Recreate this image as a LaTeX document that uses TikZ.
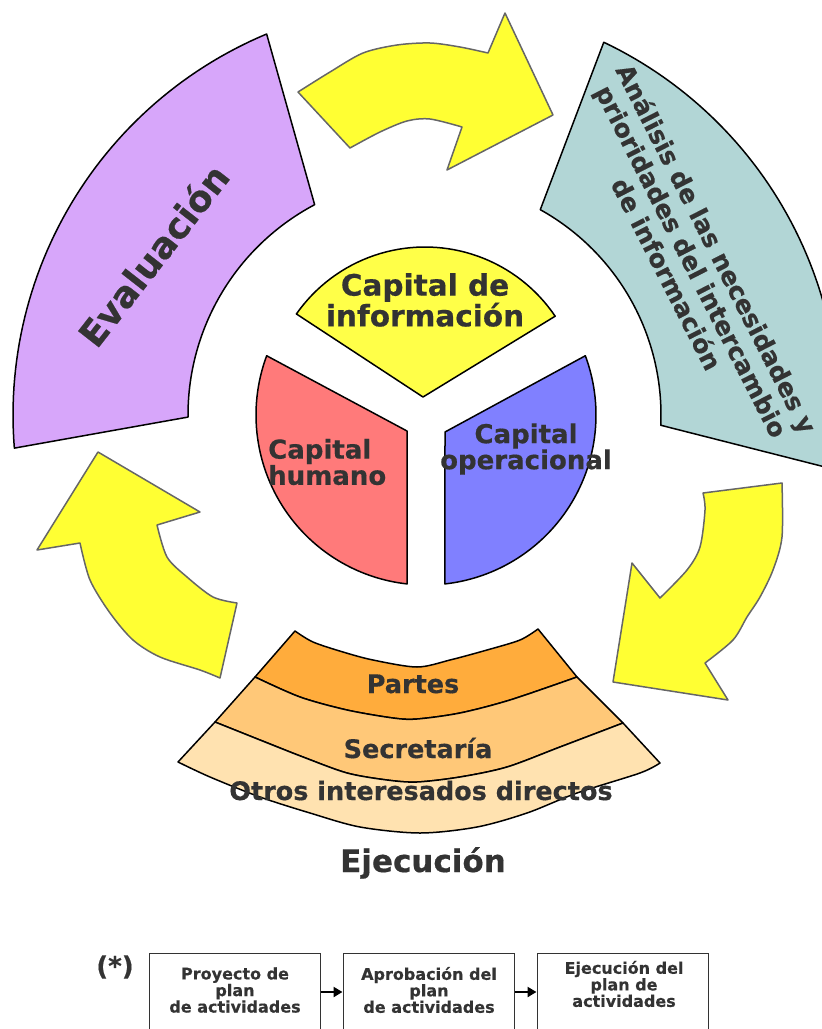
\documentclass[tikz,border=0pt]{standalone}
\usepackage{fontspec}
\setmainfont{DejaVu Sans}[BoldFeatures={FakeBold=0.5}]
\usetikzlibrary{arrows.meta}
\definecolor{evalc}{HTML}{D7A6FA}
\definecolor{tealc}{HTML}{B2D6D6}
\definecolor{arrowy}{HTML}{FFFF33}
\definecolor{infoy}{HTML}{FFFF48}
\definecolor{humc}{HTML}{FF7A7A}
\definecolor{opc}{HTML}{8080FF}
\definecolor{partc}{HTML}{FFAC3C}
\definecolor{secc}{HTML}{FFC878}
\definecolor{otrc}{HTML}{FFE2B0}
\definecolor{txt}{HTML}{333333}
\newcommand{\myfs}[2]{\fontsize{#1bp}{#2bp}\selectfont}
\tikzset{
  band/.style={draw=black, line width=1.5bp, line join=round},
  yarrow/.style={fill=arrowy, draw=black!60, line width=1.5bp, line join=round},
  lbl/.style={text=txt, font=\bfseries, inner sep=0pt},
  boxst/.style={draw=black!80, line width=1bp, minimum width=171bp, minimum height=78bp, inner sep=0pt},
  boxtxt/.style={text=txt, font=\bfseries\myfs{16}{14.5}, align=center, inner sep=0pt},
  flow/.style={line width=2.6bp, -{Triangle[length=9bp,width=10bp]}}
}
\begin{document}
\begin{tikzpicture}[x=1bp,y=-1bp]
\useasboundingbox (0,0) rectangle (822,1029);
\clip (0,0) rectangle (822,1029);

% Evaluacion band
\filldraw[band, fill=evalc]
  plot[domain=112.7:184.6, samples=60, variable=\t] ({426+413*cos(\t)},{415-413*sin(\t)})
  -- plot[domain=180.5:117.9, samples=60, variable=\t] ({426+238*cos(\t)},{415-238*sin(\t)}) -- cycle;

% Analisis band
\filldraw[band, fill=tealc]
  plot[domain=64.5:-7.6, samples=60, variable=\t] ({426+413*cos(\t)},{415-413*sin(\t)})
  -- plot[domain=-2.5:60.9, samples=60, variable=\t] ({426+235*cos(\t)},{415-235*sin(\t)}) -- cycle;

% Ejecucion layers
\filldraw[band, fill=partc]
  plot[smooth] coordinates {(295,631) (313,642) (343,652) (373,660) (417,667) (450,660) (487,650) (520,640) (538,629)}
  -- (577,677)
  -- plot[smooth] coordinates {(577,677) (510,700) (460,713) (417,719) (393,718) (347,710) (300,697) (255,677)} -- cycle;
\filldraw[band, fill=secc]
  plot[smooth] coordinates {(255,677) (300,697) (347,710) (393,718) (417,719) (460,713) (510,700) (577,677)}
  -- (623,723)
  -- plot[smooth] coordinates {(623,723) (560,747) (507,767) (460,777) (417,782) (387,780) (347,773) (303,757) (260,740) (215,722)} -- cycle;
\filldraw[band, fill=otrc]
  plot[smooth] coordinates {(215,722) (260,740) (303,757) (347,773) (387,780) (417,782) (460,777) (507,767) (560,747) (623,723)}
  -- (660,763)
  -- plot[smooth] coordinates {(660,763) (640,773) (577,793) (527,813) (477,827) (420,833) (360,827) (310,813) (260,797) (210,777) (178,762)} -- cycle;

% yellow arrows
\filldraw[yarrow]
  plot[smooth] coordinates {(298,92) (330,72) (363,53) (397,45) (430,43) (460,47) (488,53)}
  -- (505,13) -- (553,115) -- (447,170) -- (462,127)
  -- plot[smooth] coordinates {(462,127) (430,119) (407,121) (380,132) (350,148)} -- cycle;
\filldraw[yarrow]
  (703,493) -- (782,483)
  -- plot[smooth] coordinates {(782,483) (782,537) (773,570) (760,597) (747,617) (733,640) (705,663)}
  -- (728,700) -- (613,682) -- (632,563) -- (660,598)
  -- plot[smooth] coordinates {(660,598) (687,570) (700,547) (705,510) (703,493)} -- cycle;
\filldraw[yarrow]
  (237,603) -- (220,678)
  -- plot[smooth] coordinates {(220,678) (200,670) (160,657) (133,640) (110,613) (90,580) (80,543)}
  -- (37,550) -- (98,452) -- (200,512) -- (157,525)
  -- plot[smooth] coordinates {(157,525) (167,557) (187,577) (213,597) (237,603)} -- cycle;

% centre pieces
\filldraw[band, fill=infoy] (423,397)
  -- plot[domain=145:34, samples=50, variable=\t] ({425+157*cos(\t)},{404-157*sin(\t)}) -- cycle;
\filldraw[band, fill=humc] (407,431)
  -- plot[domain=159.6:263.6, samples=60, variable=\t] ({426+170*cos(\t)},{415-170*sin(\t)}) -- cycle;
\filldraw[band, fill=opc] (445,432)
  -- plot[domain=20.4:-83.6, samples=60, variable=\t] ({426+170*cos(\t)},{415-170*sin(\t)}) -- cycle;

% labels
\node[lbl, rotate=52, font=\bfseries\myfs{36}{40}] (eval) at (153,255) {Evaluación};
\node[lbl, rotate=-63, align=center, font=\bfseries\myfs{25}{28}] (anal) at (692,261)
  {Análisis de las necesidades y\\prioridades del intercambio\\de información};
\node[lbl, align=center, font=\bfseries\myfs{29.5}{29}] (cinfo) at (425,300) {Capital de\\información};
\node[lbl, align=left, anchor=west, font=\bfseries\myfs{26}{25}] (chum) at (268,462) {Capital\\humano};
\node[lbl, align=center, font=\bfseries\myfs{26}{26}] (cop) at (526,449) {Capital\\operacional};
\node[lbl, anchor=base, font=\bfseries\myfs{25.5}{28}] (partes) at (413,693) {Partes};
\node[lbl, anchor=base, font=\bfseries\myfs{25.5}{28}] (secr) at (418,758) {Secretaría};
\node[lbl, anchor=base, font=\bfseries\myfs{25.5}{28}] (otros) at (421,800) {Otros interesados directos};
\node[lbl, anchor=base, font=\bfseries\myfs{31}{34}] (ejec) at (423,872) {Ejecución};

% flow boxes
\node[lbl, font=\bfseries\myfs{26}{28}] (ast) at (115,967) {(*)};
\node[boxst] (b1) at (234.5,992) {};
\node[boxst] (b2) at (428.5,992) {};
\node[boxst] (b3) at (622.5,992) {};
\node[boxtxt] (t1) at (235,990) {Proyecto de\\plan\\de actividades};
\node[boxtxt] (t2) at (429,990) {Aprobación del\\plan\\de actividades};
\node[boxtxt] (t3) at (624,984) {Ejecución del\\plan de\\actividades};
\draw[flow] (b1.east) -- (b2.west);
\draw[flow] (b2.east) -- (b3.west);
\end{tikzpicture}
\end{document}
